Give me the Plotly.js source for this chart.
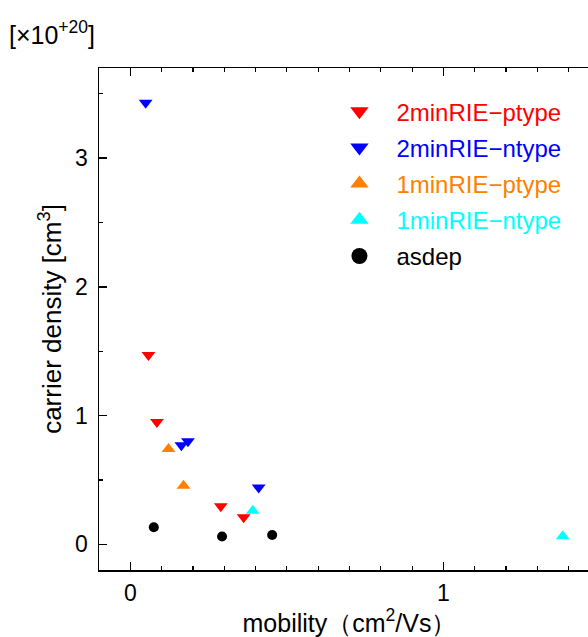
<!DOCTYPE html>
<html>
<head>
<meta charset="utf-8">
<script src="https://cdn.plot.ly/plotly-3.0.1.min.js"></script>
<style>html,body{margin:0;padding:0;background:#fff;overflow:hidden;}</style>
</head>
<body>
<div id="chart"></div>
<script>
// mobility (cm^2/Vs) and carrier density (x10^20 cm^-3)
const p2_x = [0.058, 0.085, 0.289, 0.362];
const p2_y = [1.47, 0.95, 0.295, 0.21];
const n2_x = [0.049, 0.163, 0.184, 0.41];
const n2_y = [3.43, 0.77, 0.80, 0.44];
const p1_x = [0.122, 0.17];
const p1_y = [0.74, 0.455];
const n1_x = [0.391, 1.381];
const n1_y = [0.26, 0.062];
const as_x = [0.075, 0.293, 0.453];
const as_y = [0.132, 0.06, 0.072];

const names = ['2minRIE−ptype', '2minRIE−ntype', '1minRIE−ptype', '1minRIE−ntype', 'asdep'];
const colors = ['#ff0000', '#0000ff', '#ff8000', '#00ffff', '#000000'];
const symbols = ['triangle-down', 'triangle-down', 'triangle-up', 'triangle-up', 'circle'];
const xs = [p2_x, n2_x, p1_x, n1_x, as_x];
const ys = [p2_y, n2_y, p1_y, n1_y, as_y];

const FONT = 'Liberation Sans, Arial, sans-serif';

const traces = [];
for (let i = 0; i < names.length; i++) {
  traces.push({
    type: 'scatter', mode: 'markers', x: xs[i], y: ys[i],
    marker: {symbol: symbols[i], color: colors[i], size: i === 4 ? 10 : 12, line: {width: 0}},
    showlegend: false, hoverinfo: 'x+y'
  });
}
for (let i = 0; i < names.length; i++) {
  traces.push({
    type: 'scatter', mode: 'markers', x: [null], y: [null],
    name: '<span style="color:' + colors[i] + '">' + names[i] + '</span>',
    legendgroup: 'g' + i,
    marker: {symbol: symbols[i], color: colors[i], size: 16, line: {width: 0}},
    showlegend: true
  });
}

const axisCommon = {
  showline: true, linecolor: '#000', linewidth: 1.5, mirror: 'ticks',
  ticks: 'inside', ticklen: 8, tickwidth: 1.5, tickcolor: '#000',
  showgrid: false, zeroline: false,
  tickfont: {family: FONT, size: 23, color: '#000'}
};

const layout = {
  width: 600, height: 637,
  margin: {l: 99, r: 0, t: 68, b: 67},
  paper_bgcolor: '#fff', plot_bgcolor: '#fff',
  font: {family: FONT, color: '#000'},
  xaxis: Object.assign({}, axisCommon, {
    range: [-0.1, 1.5], dtick: 1, tick0: 0,
    ticklabelstandoff: 2,
    minor: {dtick: 0.1, ticks: 'inside', ticklen: 4, tickwidth: 1.2, tickcolor: '#000'},
    title: {text: 'mobility（cm<sup>2</sup>/Vs）', font: {size: 25}, standoff: 5}
  }),
  yaxis: Object.assign({}, axisCommon, {
    range: [-0.2, 3.7], dtick: 1, tick0: 0,
    ticklabelstandoff: 5,
    minor: {dtick: 0.5, ticks: 'inside', ticklen: 4, tickwidth: 1.2, tickcolor: '#000'},
    title: {text: 'carrier density [cm<sup>3</sup>]', font: {size: 26}, standoff: 6}
  }),
  legend: {
    x: 0.446, y: 0.958, xanchor: 'left', yanchor: 'top',
    bgcolor: 'rgba(0,0,0,0)', borderwidth: 0,
    font: {size: 24},
    traceorder: 'grouped', tracegroupgap: 2, itemwidth: 64
  },
  annotations: [{
    xref: 'paper', yref: 'paper', x: 0, y: 1, xshift: -92, yshift: 17,
    xanchor: 'left', yanchor: 'bottom', align: 'left', showarrow: false,
    text: '[×10<sup>+20</sup>]', font: {size: 25, color: '#000'}
  }]
};

Plotly.newPlot('chart', traces, layout, {displayModeBar: false, staticPlot: true});
</script>
</body>
</html>
